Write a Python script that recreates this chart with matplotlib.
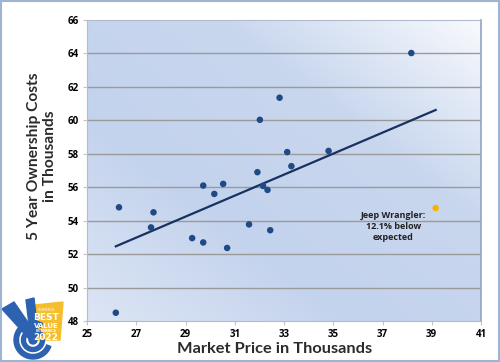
import numpy as np
import matplotlib
matplotlib.use("Agg")
import matplotlib.pyplot as plt
from matplotlib.colors import LinearSegmentedColormap
from matplotlib.patches import Polygon, Circle, Rectangle, Wedge

# market price vs 5-yr ownership cost (thousands)
price = [26.3, 26.17, 27.6, 27.7, 29.27, 29.72, 29.72, 30.17, 30.53, 30.69,
         31.58, 31.92, 32.02, 32.15, 32.33, 32.44, 32.82, 33.13, 33.3, 34.81, 38.17]
cost = [54.8, 48.5, 53.6, 54.5, 52.96, 52.7, 56.1, 55.6, 56.2, 52.37,
        53.78, 56.9, 60.03, 56.08, 55.84, 53.43, 61.35, 58.1, 57.26, 58.17, 64.02]
jeep_price = 39.16
jeep_cost = 54.76
jeep_label = "Jeep Wrangler:\n12.1% below\nexpected"

xticks = [25, 27, 29, 31, 33, 35, 37, 39, 41]
yticks = [48, 50, 52, 54, 56, 58, 60, 62, 64, 66]

fig = plt.figure(figsize=(5, 3.62), dpi=100)
fig.patch.set_facecolor("white")
# outer border
fig.add_artist(Rectangle((0.002, 0.003), 0.996, 0.994, transform=fig.transFigure,
                         fill=False, edgecolor="#9fb4d2", lw=1.5))

ax = fig.add_axes([0.174, 0.113, 0.788, 0.832])
ax.set_xlim(25, 41)
ax.set_ylim(48, 66)

# background gradient (light bottom-left, darker band, white top-right)
cmap = LinearSegmentedColormap.from_list("bg", ["#dce5f4", "#c4d3ed", "#c8d6ee", "#f8fafd"])
gx, gy = np.meshgrid(np.linspace(0, 1, 200), np.linspace(0, 1, 200))
ax.imshow((gx + gy) / 2, cmap=cmap, extent=[25, 41, 48, 66], origin="lower",
          aspect="auto", zorder=0, vmin=0, vmax=1)

for y in yticks[1:-1]:
    ax.axhline(y, color="#9a9a9a", lw=1.0, zorder=1)

all_x = np.array(price + [jeep_price])
all_y = np.array(cost + [jeep_cost])
m, b = np.polyfit(all_x, all_y, 1)
xs = np.array([all_x.min(), all_x.max()])
ax.plot(xs, m * xs + b, color="#17325e", lw=1.6, zorder=2)

ax.scatter(price, cost, s=22, color="#1f4a86", zorder=3, edgecolors="none")
ax.scatter([jeep_price], [jeep_cost], s=22, color="#f7b500", zorder=3, edgecolors="none")
ax.text(37.44, 53.66, jeep_label, ha="center", va="center", fontsize=6.5,
        fontweight="bold", color="#222222", family="Open Sans", linespacing=1.35)

ax.set_xticks(xticks)
ax.set_yticks(yticks)
ax.tick_params(length=3, color="#c4c4c4", labelsize=7, pad=3)
for lab in ax.get_xticklabels() + ax.get_yticklabels():
    lab.set_fontweight("bold")
    lab.set_family("Open Sans")
for s in ax.spines.values():
    s.set_color("#b0bccd")
    s.set_linewidth(0.8)
ax.spines["right"].set_color("#90a4c4")
ax.spines["right"].set_linewidth(1.2)

ax.set_xlabel("Market Price in Thousands", fontsize=11.8, fontweight="bold",
              family="Lato", color="#2b2b2b")
ax.xaxis.set_label_coords(0.475, -0.068)
ax.set_ylabel("5 Year Ownership Costs\nin Thousands", fontsize=11.2, fontweight="bold",
              family="Lato", color="#2b2b2b", linespacing=1.2)
ax.yaxis.set_label_coords(-0.076, 0.547)

# badge in the corner, coordinates in image pixels
lg = fig.add_axes([0, 0, 70 / 500, 77 / 362])
lg.set_xlim(0, 70)
lg.set_ylim(362, 285)
lg.axis("off")
blue = "#2c62b0"
lg.add_patch(Polygon([[35, 305], [63, 302], [60, 340], [35, 340]],
                     closed=True, color="#f6bd2c", zorder=1))
lg.add_patch(Wedge((33, 340), 19, 20, 300, width=4.5, color=blue, zorder=2))
lg.add_patch(Wedge((33, 340), 11.5, 0, 330, width=4, color=blue, zorder=2))
lg.add_patch(Circle((33, 340), 4, color=blue, zorder=2))
lg.add_patch(Polygon([[2, 309], [14, 302], [36, 334], [31, 341]], closed=True,
                     color=blue, zorder=3))
lg.add_patch(Polygon([[26, 300], [34, 298], [38, 334], [31, 341]], closed=True,
                     color=blue, zorder=3))
lg.text(46, 310, "IN AMERICA", ha="center", va="center", fontsize=2, color="white", zorder=4)
lg.text(46, 318, "BEST", ha="center", va="center", fontsize=6.5, color="white",
        fontweight="bold", zorder=4)
lg.text(46, 326, "VALUE", ha="center", va="center", fontsize=5, color="white",
        fontweight="bold", zorder=4)
lg.text(46, 331.5, "IN AMERICA", ha="center", va="center", fontsize=2.2, color="white",
        fontweight="bold", zorder=4)
lg.text(46, 338, "2022", ha="center", va="center", fontsize=6.5, color="white",
        fontweight="bold", zorder=4)

fig.savefig("out.png", dpi=100)
